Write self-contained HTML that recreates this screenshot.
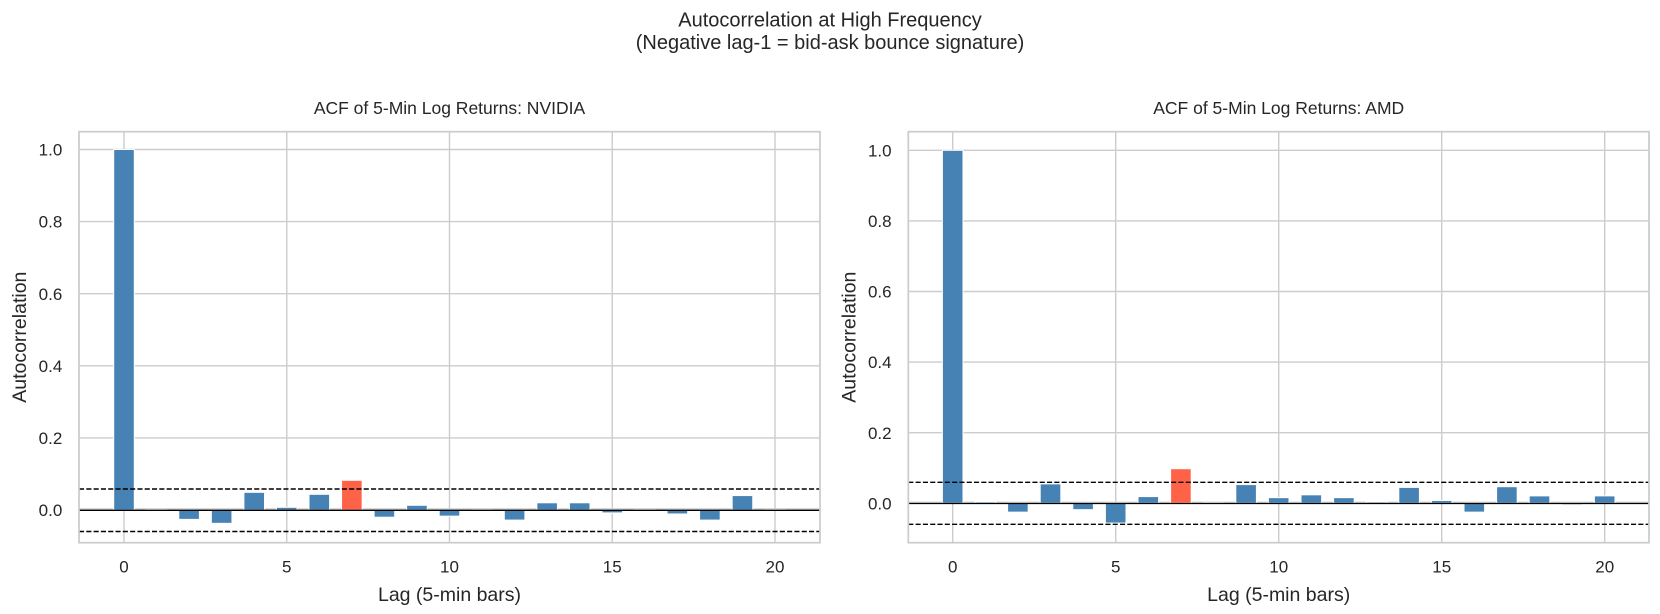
<!DOCTYPE html>
<html>
<head>
<meta charset="utf-8">
<style>
  html, body { margin: 0; padding: 0; background: #ffffff; }
  svg { display: block; }
  text { font-family: "Liberation Sans", Arial, sans-serif; fill: #262626; }
</style>
</head>
<body>
<svg width="1660" height="614" viewBox="0 0 1660 614" xmlns="http://www.w3.org/2000/svg">
  <rect x="0" y="0" width="1660" height="614" fill="#ffffff"/>

  <!-- Suptitle -->
  <text x="830" y="26.5" font-size="20" text-anchor="middle">Autocorrelation at High Frequency</text>
  <text x="830" y="49" font-size="20" text-anchor="middle">(Negative lag-1 = bid-ask bounce signature)</text>

  <!-- ================= LEFT PANEL ================= -->
  <g>
    <g stroke="#cccccc" stroke-width="1.4" fill="none">
      <line x1="79" x2="820" y1="149.5" y2="149.5"/>
      <line x1="79" x2="820" y1="221.6" y2="221.6"/>
      <line x1="79" x2="820" y1="293.7" y2="293.7"/>
      <line x1="79" x2="820" y1="365.8" y2="365.8"/>
      <line x1="79" x2="820" y1="437.9" y2="437.9"/>
      <line x1="79" x2="820" y1="509" y2="509"/>
      <line x1="124" x2="124" y1="131.7" y2="542.7"/>
      <line x1="286.75" x2="286.75" y1="131.7" y2="542.7"/>
      <line x1="449.5" x2="449.5" y1="131.7" y2="542.7"/>
      <line x1="612.25" x2="612.25" y1="131.7" y2="542.7"/>
      <line x1="775" x2="775" y1="131.7" y2="542.7"/>
    </g>
    <g fill="#4682b4" stroke="#ffffff" stroke-width="1">
      <rect x="113.7" y="149.5" width="20.6" height="360.5"/>
      <rect x="146.25" y="509.6" width="20.6" height="0.4"/>
      <rect x="178.8" y="510" width="20.6" height="9.37"/>
      <rect x="211.35" y="510" width="20.6" height="13.34"/>
      <rect x="243.9" y="492.34" width="20.6" height="17.66"/>
      <rect x="276.45" y="507.33" width="20.6" height="2.67"/>
      <rect x="309.0" y="494.32" width="20.6" height="15.68"/>
      <rect x="341.55" y="480.3" width="20.6" height="29.7" fill="#ff6347"/>
      <rect x="374.1" y="510" width="20.6" height="7.21"/>
      <rect x="406.65" y="505.31" width="20.6" height="4.69"/>
      <rect x="439.2" y="510" width="20.6" height="6.13"/>
      <rect x="471.75" y="509.7" width="20.6" height="0.3"/>
      <rect x="504.3" y="510" width="20.6" height="10.09"/>
      <rect x="536.85" y="502.79" width="20.6" height="7.21"/>
      <rect x="569.4" y="502.79" width="20.6" height="7.21"/>
      <rect x="601.95" y="510" width="20.6" height="2.88"/>
      <rect x="634.5" y="509.7" width="20.6" height="0.3"/>
      <rect x="667.05" y="510" width="20.6" height="3.97"/>
      <rect x="699.6" y="510" width="20.6" height="10.09"/>
      <rect x="732.15" y="495.58" width="20.6" height="14.42"/>
      <rect x="764.7" y="509.7" width="20.6" height="0.3"/>
    </g>
    <line x1="79" x2="820" y1="510.3" y2="510.3" stroke="#000000" stroke-width="1.3"/>
    <line x1="79" x2="820" y1="489" y2="489" stroke="#000000" stroke-width="1.4" stroke-dasharray="5.1 2.2"/>
    <line x1="79" x2="820" y1="531.5" y2="531.5" stroke="#000000" stroke-width="1.4" stroke-dasharray="5.1 2.2"/>
    <rect x="79" y="131.7" width="741" height="411" fill="none" stroke="#cccccc" stroke-width="1.75"/>
    <g font-size="17" text-anchor="end">
      <text x="62.3" y="155.6">1.0</text>
      <text x="62.3" y="227.7">0.8</text>
      <text x="62.3" y="299.8">0.6</text>
      <text x="62.3" y="371.9">0.4</text>
      <text x="62.3" y="444">0.2</text>
      <text x="62.3" y="516.1">0.0</text>
    </g>
    <g font-size="17" text-anchor="middle">
      <text x="124" y="572.7">0</text>
      <text x="286.75" y="572.7">5</text>
      <text x="449.5" y="572.7">10</text>
      <text x="612.25" y="572.7">15</text>
      <text x="775" y="572.7">20</text>
    </g>
    <text x="449.5" y="114" font-size="17.5" text-anchor="middle">ACF of 5-Min Log Returns: NVIDIA</text>
    <text x="449.5" y="601" font-size="19.5" text-anchor="middle">Lag (5-min bars)</text>
    <text transform="translate(26,337.2) rotate(-90)" font-size="19.5" text-anchor="middle">Autocorrelation</text>
  </g>

  <!-- ================= RIGHT PANEL ================= -->
  <g>
    <g stroke="#cccccc" stroke-width="1.4" fill="none">
      <line x1="908.3" x2="1649" y1="150.3" y2="150.3"/>
      <line x1="908.3" x2="1649" y1="220.9" y2="220.9"/>
      <line x1="908.3" x2="1649" y1="291.5" y2="291.5"/>
      <line x1="908.3" x2="1649" y1="362.1" y2="362.1"/>
      <line x1="908.3" x2="1649" y1="432.7" y2="432.7"/>
      <line x1="908.3" x2="1649" y1="502.3" y2="502.3"/>
      <line x1="952.7" x2="952.7" y1="131.7" y2="542.7"/>
      <line x1="1115.7" x2="1115.7" y1="131.7" y2="542.7"/>
      <line x1="1278.7" x2="1278.7" y1="131.7" y2="542.7"/>
      <line x1="1441.7" x2="1441.7" y1="131.7" y2="542.7"/>
      <line x1="1604.7" x2="1604.7" y1="131.7" y2="542.7"/>
    </g>
    <g fill="#4682b4" stroke="#ffffff" stroke-width="1">
      <rect x="942.4" y="150.3" width="20.6" height="353"/>
      <rect x="975.0" y="501.89" width="20.6" height="1.41"/>
      <rect x="1007.6" y="503.3" width="20.6" height="8.83"/>
      <rect x="1040.2" y="483.88" width="20.6" height="19.42"/>
      <rect x="1072.8" y="503.3" width="20.6" height="6.35"/>
      <rect x="1105.4" y="503.3" width="20.6" height="19.77"/>
      <rect x="1138.0" y="496.59" width="20.6" height="6.71"/>
      <rect x="1170.6" y="468.7" width="20.6" height="34.6" fill="#ff6347"/>
      <rect x="1203.2" y="503.0" width="20.6" height="0.3"/>
      <rect x="1235.8" y="484.59" width="20.6" height="18.71"/>
      <rect x="1268.4" y="497.65" width="20.6" height="5.65"/>
      <rect x="1301.0" y="494.83" width="20.6" height="8.47"/>
      <rect x="1333.6" y="497.65" width="20.6" height="5.65"/>
      <rect x="1366.2" y="501.89" width="20.6" height="1.41"/>
      <rect x="1398.8" y="487.41" width="20.6" height="15.89"/>
      <rect x="1431.4" y="500.48" width="20.6" height="2.82"/>
      <rect x="1464.0" y="503.3" width="20.6" height="8.83"/>
      <rect x="1496.6" y="486.71" width="20.6" height="16.59"/>
      <rect x="1529.2" y="495.89" width="20.6" height="7.41"/>
      <rect x="1561.8" y="503.3" width="20.6" height="1.41"/>
      <rect x="1594.4" y="495.89" width="20.6" height="7.41"/>
    </g>
    <line x1="908.3" x2="1649" y1="503.5" y2="503.5" stroke="#000000" stroke-width="1.3"/>
    <line x1="908.3" x2="1649" y1="482.3" y2="482.3" stroke="#000000" stroke-width="1.4" stroke-dasharray="5.1 2.2"/>
    <line x1="908.3" x2="1649" y1="524.3" y2="524.3" stroke="#000000" stroke-width="1.4" stroke-dasharray="5.1 2.2"/>
    <rect x="908.3" y="131.7" width="740.7" height="411" fill="none" stroke="#cccccc" stroke-width="1.75"/>
    <g font-size="17" text-anchor="end">
      <text x="891.6" y="156.4">1.0</text>
      <text x="891.6" y="227">0.8</text>
      <text x="891.6" y="297.6">0.6</text>
      <text x="891.6" y="368.2">0.4</text>
      <text x="891.6" y="438.8">0.2</text>
      <text x="891.6" y="509.4">0.0</text>
    </g>
    <g font-size="17" text-anchor="middle">
      <text x="952.7" y="572.7">0</text>
      <text x="1115.7" y="572.7">5</text>
      <text x="1278.7" y="572.7">10</text>
      <text x="1441.7" y="572.7">15</text>
      <text x="1604.7" y="572.7">20</text>
    </g>
    <text x="1278.7" y="114" font-size="17.5" text-anchor="middle">ACF of 5-Min Log Returns: AMD</text>
    <text x="1278.7" y="601" font-size="19.5" text-anchor="middle">Lag (5-min bars)</text>
    <text transform="translate(855.3,337.2) rotate(-90)" font-size="19.5" text-anchor="middle">Autocorrelation</text>
  </g>
</svg>
</body>
</html>
